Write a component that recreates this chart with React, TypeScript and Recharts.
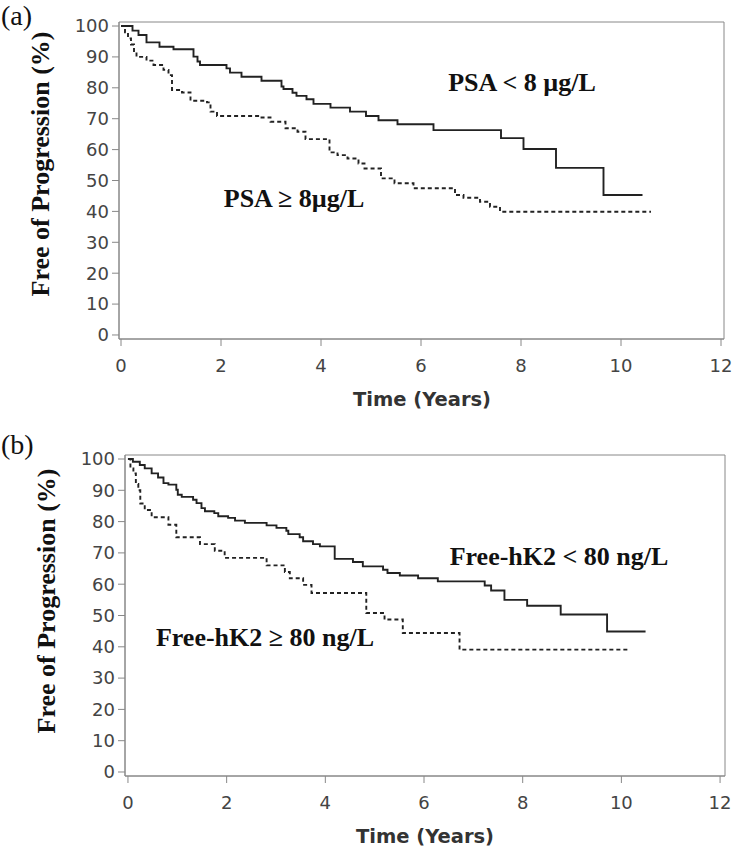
import { LineChart, Line, XAxis, YAxis, ReferenceArea } from "recharts";

// panel (a): PSA groups
const psaLowTime = [0, 0.23, 0.35, 0.51, 0.77, 1.05, 1.45, 1.53, 1.58, 2.11, 2.18, 2.41, 2.81, 3.21, 3.25, 3.43, 3.51, 3.71, 3.85, 4.19, 4.58, 4.9, 5.15, 5.53, 6.25, 7.6, 8.05, 8.7, 9.65, 10.43];
const psaLowSurv = [100, 98.5, 97.1, 94.7, 93.3, 92.5, 90.1, 88.5, 87.4, 86.3, 84.9, 83.6, 82.3, 80.4, 79.6, 78.4, 77.4, 76.3, 74.8, 73.6, 72.3, 70.9, 69.5, 68.2, 66.3, 63.7, 60.2, 54.1, 45.3, 45.3];

const psaHighTime = [0, 0.08, 0.14, 0.2, 0.26, 0.31, 0.51, 0.65, 0.85, 0.95, 1.02, 1.22, 1.39, 1.72, 1.79, 1.92, 2.79, 2.99, 3.29, 3.53, 3.69, 4.17, 4.33, 4.53, 4.75, 4.87, 5.2, 5.47, 5.85, 6.68, 6.85, 7.18, 7.38, 7.58, 10.6];
const psaHighSurv = [100, 98, 96, 94, 91.5, 90, 88.8, 87.4, 85.8, 84.1, 79.3, 78.5, 75.8, 75.3, 72.3, 70.9, 70.4, 69, 66.9, 65.8, 63.4, 59.1, 58.2, 57.1, 55.5, 53.9, 50.7, 49.1, 47.5, 45.3, 44.4, 43.1, 41.5, 39.9, 39.9];

// panel (b): free-hK2 groups
const hk2LowTime = [0, 0.1, 0.24, 0.34, 0.48, 0.61, 0.72, 0.82, 0.98, 1.01, 1.09, 1.32, 1.39, 1.49, 1.56, 1.75, 1.83, 2.03, 2.17, 2.37, 2.81, 3.01, 3.21, 3.25, 3.48, 3.55, 3.75, 3.89, 4.19, 4.56, 4.76, 5.17, 5.26, 5.51, 5.88, 6.28, 7.23, 7.36, 7.63, 8.09, 8.77, 9.71, 10.49];
const hk2LowSurv = [100, 99.1, 98.1, 97, 95.4, 94.1, 92.3, 91.8, 90.2, 88.6, 87.9, 87, 85.9, 84.3, 83.3, 82.7, 81.7, 81.2, 80.3, 79.6, 78.8, 78, 77.1, 76, 75, 73.7, 72.8, 72.1, 68.1, 67.1, 65.7, 64.6, 63.6, 62.8, 61.9, 60.9, 59.6, 58, 55, 53.1, 50.3, 44.9, 44.9];

const hk2HighTime = [0, 0.05, 0.11, 0.16, 0.21, 0.25, 0.34, 0.48, 0.82, 0.98, 1.46, 1.76, 1.96, 2.81, 3.18, 3.28, 3.55, 3.72, 4.83, 5.2, 5.57, 6.72, 10.16];
const hk2HighSurv = [100, 97, 95.4, 92, 90, 85.8, 83.7, 81.4, 79, 75, 72.8, 70.7, 68.4, 66, 63.9, 61.9, 59.8, 57.2, 50.8, 48.7, 44.4, 39.1, 39.1];

const xTicks = [0, 2, 4, 6, 8, 10, 12];
const yTicks = [0, 10, 20, 30, 40, 50, 60, 70, 80, 90, 100];

const toRows = (t: number[], s: number[]) => t.map((v, i) => ({ t: v, s: s[i] }));

const tickStyle = { fontFamily: "DejaVu Sans", fontSize: 18, fill: "#444" };
const serifBold = { fontFamily: "Liberation Serif", fontWeight: "bold" as const, fontSize: 26, fill: "#111" };
const axisTitle = { fontFamily: "DejaVu Sans", fontWeight: "bold" as const, fontSize: 19.5, fill: "#333" };

function KMPanel({ top, height, margin, xDomain, yDomain, solid, dashed }: any) {
  return (
    <div style={{ position: "absolute", left: 0, top }}>
      <LineChart width={732} height={height} margin={margin}>
        <XAxis
          type="number"
          dataKey="t"
          domain={xDomain}
          ticks={xTicks}
          allowDataOverflow
          height={40}
          tick={tickStyle}
          tickSize={7}
          tickMargin={13}
          stroke="#888"
        />
        <YAxis
          type="number"
          dataKey="s"
          domain={yDomain}
          ticks={yTicks}
          allowDataOverflow
          width={60}
          tick={tickStyle}
          tickSize={7}
          tickMargin={3}
          stroke="#888"
        />
        <ReferenceArea x1={xDomain[0]} x2={xDomain[1]} y1={yDomain[0]} y2={yDomain[1]} fill="none" stroke="#888" strokeWidth={1} />
        <Line data={solid} dataKey="s" type="stepAfter" stroke="#222" strokeWidth={1.9} dot={false} isAnimationActive={false} />
        <Line data={dashed} dataKey="s" type="stepAfter" stroke="#222" strokeWidth={1.9} strokeDasharray="4 3" dot={false} isAnimationActive={false} />
      </LineChart>
    </div>
  );
}

export default function App() {
  return (
    <div style={{ position: "absolute", left: 0, top: 0, width: 732, height: 849, background: "#fff" }}>
      <KMPanel
        top={0}
        height={415}
        margin={{ top: 22, right: 8, left: 59, bottom: 36 }}
        xDomain={[-0.04, 12.06]}
        yDomain={[-1.3, 101.3]}
        solid={toRows(psaLowTime, psaLowSurv)}
        dashed={toRows(psaHighTime, psaHighSurv)}
      />
      <KMPanel
        top={433}
        height={416}
        margin={{ top: 22, right: 7, left: 65, bottom: 33 }}
        xDomain={[-0.06, 12.1]}
        yDomain={[-1.28, 101.28]}
        solid={toRows(hk2LowTime, hk2LowSurv)}
        dashed={toRows(hk2HighTime, hk2HighSurv)}
      />
      <svg width={732} height={849} style={{ position: "absolute", left: 0, top: 0, pointerEvents: "none" }}>
        <text x={1} y={25} style={{ fontFamily: "Liberation Serif", fontSize: 28, fill: "#111" }}>(a)</text>
        <text x={1} y={454} style={{ fontFamily: "Liberation Serif", fontSize: 28, fill: "#111" }}>(b)</text>
        <text x={49} y={164} textAnchor="middle" transform="rotate(-90 49 164)" style={serifBold}>Free of Progression (%)</text>
        <text x={55} y={601} textAnchor="middle" transform="rotate(-90 55 601)" style={serifBold}>Free of Progression (%)</text>
        <text x={522} y={91} textAnchor="middle" style={serifBold}>PSA &lt; 8 µg/L</text>
        <text x={294} y={207} textAnchor="middle" style={serifBold}>PSA ≥ 8µg/L</text>
        <text x={559} y={565} textAnchor="middle" style={serifBold}>Free-hK2 &lt; 80 ng/L</text>
        <text x={265} y={646} textAnchor="middle" style={serifBold}>Free-hK2 ≥ 80 ng/L</text>
        <text x={422} y={406} textAnchor="middle" style={axisTitle}>Time (Years)</text>
        <text x={425} y={843} textAnchor="middle" style={axisTitle}>Time (Years)</text>
      </svg>
    </div>
  );
}
